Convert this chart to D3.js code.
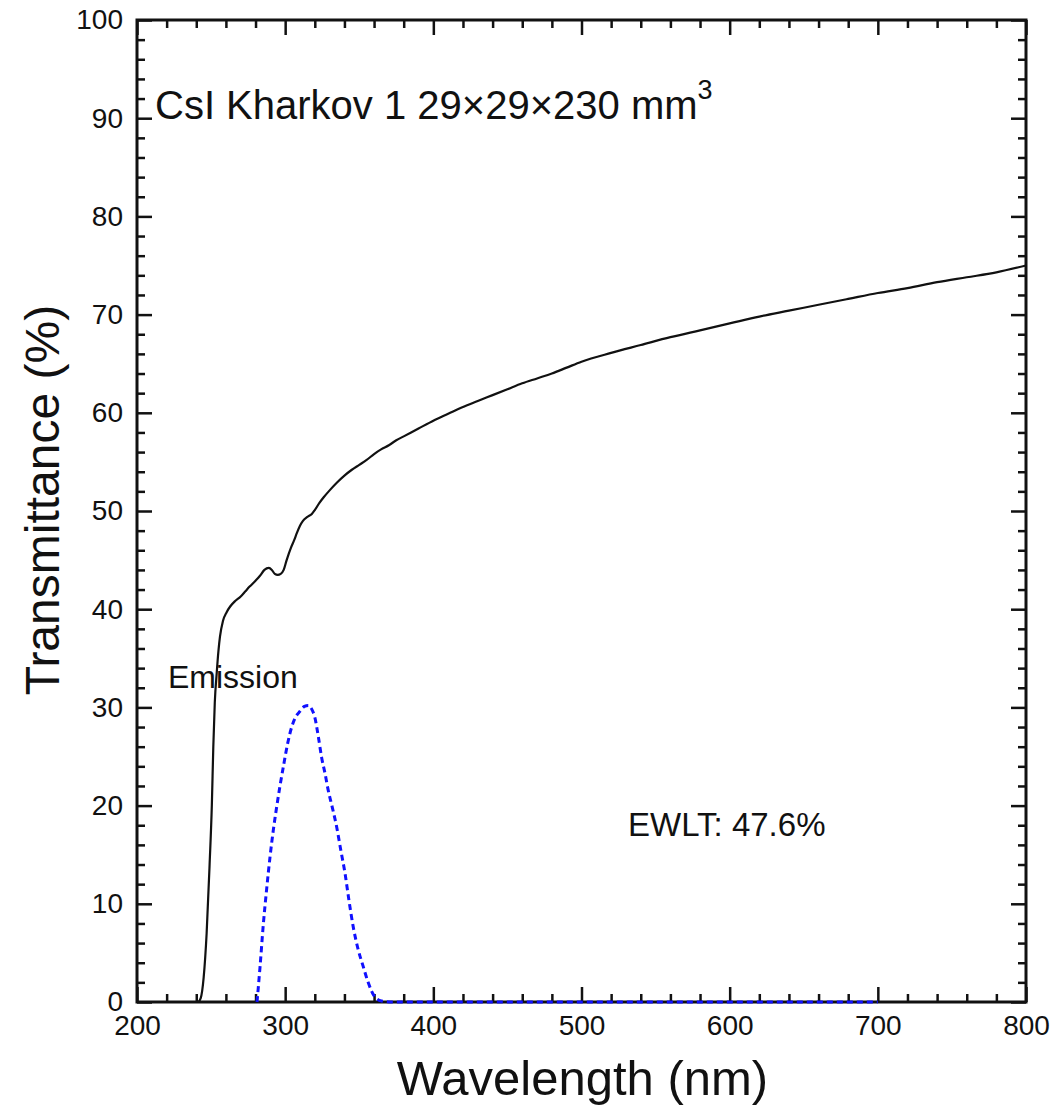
<!DOCTYPE html>
<html>
<head>
<meta charset="utf-8">
<script src="https://cdn.jsdelivr.net/npm/d3@7"></script>
<style>
  body { margin: 0; background: #fff; }
  svg text { font-family: "Liberation Sans", Arial, sans-serif; fill: #111; }
</style>
</head>
<body>
<div id="chart"></div>
<script>
// transmittance curve (nm, %)
var transWl  = [200, 241, 243, 245, 247, 249, 250.5, 251.5, 252.5, 253.8, 255, 256, 258, 260.5, 263, 266, 270, 273, 276, 280, 283, 286, 289, 291, 293, 295, 297, 299, 301, 304, 306, 308, 310, 312, 315, 318, 320, 323, 326, 330, 335, 340, 345, 350, 355, 360, 365, 370, 375, 380, 390, 400, 410, 420, 430, 440, 450, 460, 470, 480, 490, 500, 520, 540, 560, 580, 600, 620, 640, 660, 680, 700, 720, 740, 760, 780, 800];
var transVal = [0, 0, 0.4, 2.5, 7, 14, 20, 26, 30.5, 33.5, 35.8, 37.2, 38.8, 39.7, 40.3, 40.8, 41.3, 41.8, 42.3, 42.9, 43.4, 44.0, 44.2, 44.0, 43.6, 43.5, 43.6, 44.0, 45.0, 46.3, 47.0, 47.8, 48.5, 49.0, 49.4, 49.7, 50.1, 50.8, 51.4, 52.1, 52.9, 53.6, 54.2, 54.7, 55.2, 55.8, 56.3, 56.7, 57.2, 57.6, 58.4, 59.2, 59.9, 60.6, 61.2, 61.8, 62.4, 63.0, 63.5, 64.0, 64.6, 65.2, 66.1, 66.9, 67.7, 68.4, 69.1, 69.8, 70.4, 71.0, 71.6, 72.2, 72.7, 73.3, 73.8, 74.3, 75.0];

// emission spectrum (nm, scaled to %)
var emisWl  = [281, 283, 285.3, 287.5, 289.8, 292, 294.3, 296.5, 298.7, 301.5, 304.4, 307, 310, 313, 315.6, 318, 320, 322.3, 324.6, 327, 329, 332, 334.8, 337.5, 340.4, 343, 346, 349, 352.7, 356, 360.6, 365, 372, 400, 500, 600, 700];
var emisVal = [0, 3.5, 8, 11.5, 14.8, 17.5, 19.9, 22, 23.9, 26.2, 28, 29.0, 29.6, 30.1, 30.2, 29.8, 29, 27.1, 24.9, 23.2, 21.6, 19.7, 17.8, 15.5, 13.1, 10.4, 7.6, 5.5, 3.6, 2.0, 0.5, 0.1, 0, 0, 0, 0, 0];

var xMajor = [200, 300, 400, 500, 600, 700, 800];
var yMajor = [0, 10, 20, 30, 40, 50, 60, 70, 80, 90, 100];

(function () {
    var W = 1054, H = 1106;
    var pl = 137, pr = 1026, pt = 20, pb = 1002;

    var svg = d3.select('#chart').append('svg')
        .attr('width', W).attr('height', H);

    var x = d3.scaleLinear().domain([200, 800]).range([pl, pr]);
    var y = d3.scaleLinear().domain([0, 100]).range([pb, pt]);

    var xMinor = d3.range(200, 801, 20).filter(function (v) { return v % 100 !== 0; });
    var yMinor = d3.range(0, 101, 2).filter(function (v) { return v % 10 !== 0; });

    function styleAxis(g) {
        g.select('.domain').remove();
        g.selectAll('.tick line').attr('stroke', '#111').attr('stroke-width', 2.5);
    }
    function styleText(g) {
        g.selectAll('text').attr('font-size', 28).attr('fill', '#111')
            .attr('font-family', 'Liberation Sans, Arial, sans-serif');
    }

    // bottom
    svg.append('g').attr('transform', 'translate(0,' + pb + ')')
        .call(d3.axisBottom(x).tickValues(xMajor).tickSizeInner(-15).tickSizeOuter(0).tickPadding(12).tickFormat(d3.format('d')))
        .call(styleAxis).call(styleText)
        .call(function (g) { g.selectAll('text').attr('dy', '0.75em').attr('y', 12); });
    svg.append('g').attr('transform', 'translate(0,' + pb + ')')
        .call(d3.axisBottom(x).tickValues(xMinor).tickSize(-8).tickFormat(''))
        .call(styleAxis);
    // top
    svg.append('g').attr('transform', 'translate(0,' + pt + ')')
        .call(d3.axisTop(x).tickValues(xMajor).tickSize(-15).tickFormat(''))
        .call(styleAxis);
    svg.append('g').attr('transform', 'translate(0,' + pt + ')')
        .call(d3.axisTop(x).tickValues(xMinor).tickSize(-8).tickFormat(''))
        .call(styleAxis);
    // left
    svg.append('g').attr('transform', 'translate(' + pl + ',0)')
        .call(d3.axisLeft(y).tickValues(yMajor).tickSizeInner(-15).tickSizeOuter(0).tickPadding(14).tickFormat(d3.format('d')))
        .call(styleAxis).call(styleText)
        .call(function (g) { g.selectAll('text').attr('x', -14); });
    svg.append('g').attr('transform', 'translate(' + pl + ',0)')
        .call(d3.axisLeft(y).tickValues(yMinor).tickSize(-8).tickFormat(''))
        .call(styleAxis);
    // right
    svg.append('g').attr('transform', 'translate(' + pr + ',0)')
        .call(d3.axisRight(y).tickValues(yMajor).tickSize(-15).tickFormat(''))
        .call(styleAxis);
    svg.append('g').attr('transform', 'translate(' + pr + ',0)')
        .call(d3.axisRight(y).tickValues(yMinor).tickSize(-8).tickFormat(''))
        .call(styleAxis);

    // frame
    svg.append('rect')
        .attr('x', pl).attr('y', pt)
        .attr('width', pr - pl).attr('height', pb - pt)
        .attr('fill', 'none').attr('stroke', '#111').attr('stroke-width', 3);

    var line = d3.line()
        .x(function (d) { return x(d[0]); })
        .y(function (d) { return y(d[1]); })
        .curve(d3.curveMonotoneX);

    svg.append('path')
        .datum(d3.zip(emisWl, emisVal))
        .attr('d', line)
        .attr('fill', 'none')
        .attr('stroke', '#1010ff')
        .attr('stroke-width', 3)
        .attr('stroke-dasharray', '6,4');

    svg.append('path')
        .datum(d3.zip(transWl, transVal))
        .attr('d', line)
        .attr('fill', 'none')
        .attr('stroke', '#111')
        .attr('stroke-width', 2.2);

    // labels
    var title = svg.append('text')
        .attr('x', 155).attr('y', 119)
        .attr('font-size', 40)
        .text('CsI Kharkov 1 29×29×230 mm');
    title.append('tspan')
        .attr('dy', -20).attr('font-size', 27)
        .text('3');

    svg.append('text')
        .attr('x', 168).attr('y', 688)
        .attr('font-size', 32)
        .text('Emission');

    svg.append('text')
        .attr('x', 628).attr('y', 836)
        .attr('font-size', 33)
        .text('EWLT: 47.6%');

    svg.append('text')
        .attr('x', (pl + pr) / 2 + 1).attr('y', 1095)
        .attr('text-anchor', 'middle')
        .attr('font-size', 49)
        .text('Wavelength (nm)');

    svg.append('text')
        .attr('transform', 'translate(59,500) rotate(-90)')
        .attr('text-anchor', 'middle')
        .attr('font-size', 48)
        .text('Transmittance (%)');
})();
</script>
</body>
</html>
